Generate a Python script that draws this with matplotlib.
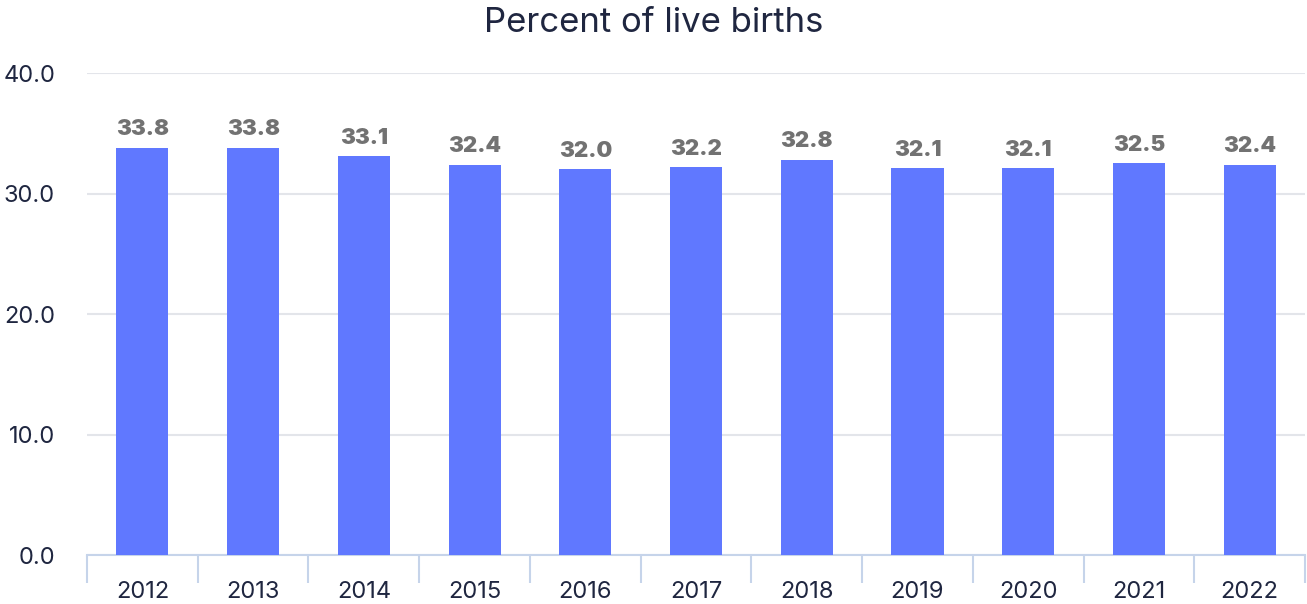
import matplotlib.pyplot as plt
import numpy as np

plt.rcParams['font.family'] = ['Inter', 'DejaVu Sans']

# data
years = ['2012', '2013', '2014', '2015', '2016', '2017', '2018', '2019', '2020', '2021', '2022']
values = [33.8, 33.8, 33.1, 32.4, 32.0, 32.2, 32.8, 32.1, 32.1, 32.5, 32.4]
y_ticks = [0, 10, 20, 30, 40]

bar_color = '#6078ff'
text_color = '#1f2640'
grid_color = '#e3e5ea'
axis_color = '#c6d4ea'

fig = plt.figure(figsize=(13.07, 6.04), dpi=100)
ax = fig.add_axes([0.0666, 0.0811, 0.9319, 0.798])

x = np.arange(len(years))
bars = ax.bar(x, values, width=0.47, color=bar_color, zorder=3)

for xi, v in zip(x, values):
    ax.text(xi, v + 0.7, f'{v:.1f}', ha='center', va='bottom',
            fontsize=16, fontweight='black', color='#727272', zorder=4)

ax.set_xlim(-0.5, len(years) - 0.5)
ax.set_ylim(0, 40)
ax.set_yticks(y_ticks)
ax.set_yticklabels([f'{t:.1f}' for t in y_ticks])
ax.yaxis.grid(True, color=grid_color, linewidth=1.5, zorder=0)
ax.tick_params(axis='y', length=0, pad=23, labelsize=17, labelcolor=text_color)

ax.set_xticks(x)
ax.set_xticklabels(years)
ax.tick_params(axis='x', which='major', length=0, pad=19, labelsize=17, labelcolor=text_color)
ax.set_xticks(np.arange(-0.5, len(years)), minor=True)
ax.tick_params(axis='x', which='minor', length=20, width=1.5, color=axis_color)

for s in ['top', 'right', 'left']:
    ax.spines[s].set_visible(False)
ax.spines['bottom'].set_color(axis_color)
ax.spines['bottom'].set_linewidth(1.5)

fig.text(0.5, 0.962, 'Percent of live births', ha='center', va='center',
         fontsize=25, color=text_color)

fig.savefig('out.png', dpi=100)
